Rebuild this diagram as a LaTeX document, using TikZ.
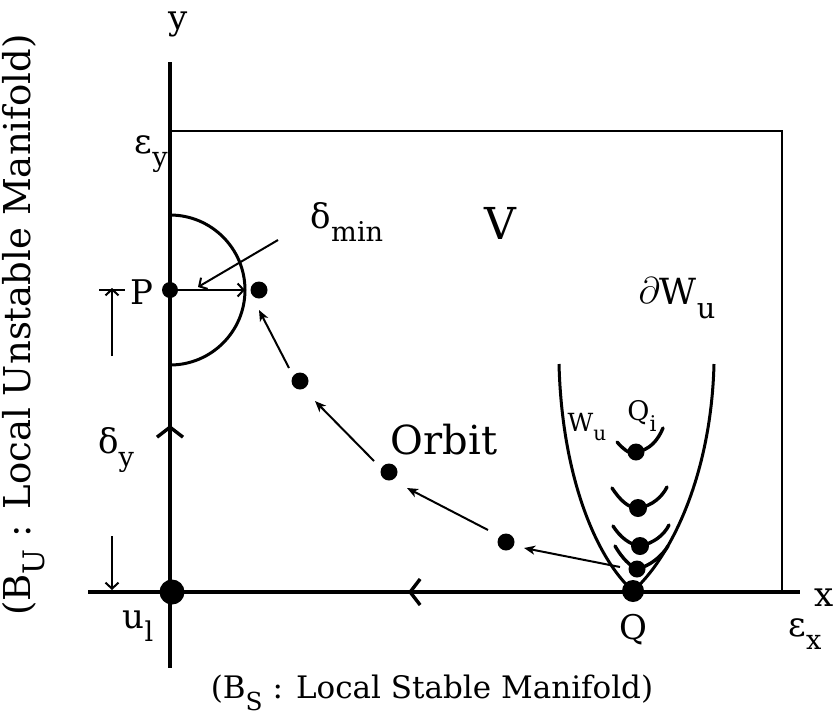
\documentclass[tikz,border=0pt]{standalone}
\usepackage{fontspec}
\setmainfont{DejaVu Serif}
\usetikzlibrary{arrows.meta}
\newcommand\sbs[1]{\raisebox{-0.38em}{\scalebox{0.8}{#1}}}
\begin{document}
\begin{tikzpicture}[x=1pt,y=-1pt,
  axisline/.style={line width=3.8pt},
  frameline/.style={line width=2pt},
  curveline/.style={line width=3pt},
  smile/.style={line width=3.4pt, line cap=round},
  dotnode/.style={circle,fill,inner sep=0pt,minimum size=17pt},
  lbl/.style={inner sep=0pt, font=\fontsize{34}{34}\selectfont},
  orb/.style={-{Stealth[length=11pt,width=9pt,inset=3pt]}, line width=2pt},
  barb/.style={-{Straight Barb[length=6pt,width=13pt,line width=2pt]}, line width=2pt},
  chevtip/.style={-{Straight Barb[length=10pt,width=26pt,line width=3.4pt]}, line width=3.8pt}
]
\useasboundingbox (0,0) rectangle (834,721);
% axes
\coordinate (yt) at (170,62);
\coordinate (yb) at (170,668);
\coordinate (xl) at (88,592);
\coordinate (xr) at (800,592);
\draw[axisline] (yt) -- (yb);
\draw[axisline] (xl) -- (xr);
% frame V
\coordinate (ftl) at (170,131);
\coordinate (fbr) at (782,592);
\draw[frameline] (ftl) -| (fbr);
% axis direction chevrons
\coordinate (ca1) at (170,455);
\coordinate (ca2) at (170,425);
\coordinate (cb1) at (440,592);
\coordinate (cb2) at (408,592);
\draw[chevtip] (ca1) -- (ca2);
\draw[chevtip] (cb1) -- (cb2);
% points
\node[dotnode, minimum size=25pt] (U1) at (172,592) {};
\node[dotnode, minimum size=16pt] (P) at (170,290) {};
\node[dotnode] (O1) at (259,290) {};
\node[dotnode] (O2) at (300,381) {};
\node[dotnode] (O3) at (389,472) {};
\node[dotnode] (O4) at (506,542) {};
\node[dotnode, minimum size=22pt] (Q) at (633,591) {};
% semicircle
\coordinate (ctop) at (170,215);
\draw[curveline] (ctop) arc[start angle=-90, end angle=90, radius=75];
\coordinate (cr) at (245,290);
\draw[barb] (P) -- (cr);
% delta_min leader
\coordinate (dm1) at (278,240);
\coordinate (dm2) at (198,287);
\draw[barb] (dm1) -- (dm2);
% orbit arrows
\coordinate (a1s) at (620,567); \coordinate (a1e) at (524,548);
\coordinate (a2s) at (488,530); \coordinate (a2e) at (407,488);
\coordinate (a3s) at (374,461); \coordinate (a3e) at (315,401);
\coordinate (a4s) at (289,368); \coordinate (a4e) at (259,310);
\draw[orb] (a1s) -- (a1e);
\draw[orb] (a2s) -- (a2e);
\draw[orb] (a3s) -- (a3e);
\draw[orb] (a4s) -- (a4e);
% delta_y dimension
\coordinate (dy1) at (112,290);
\coordinate (dy2) at (112,356);
\coordinate (dy3) at (112,536);
\coordinate (dy4) at (112,590);
\coordinate (dtl) at (99,290);
\coordinate (dtr) at (125,290);
\draw[line width=1.8pt] (dtl) -- (dtr);
\draw[barb] (dy2) -- ([yshift=2pt]dy1);
\draw[barb] (dy3) -- (dy4);
% W_u boundary
\coordinate (wl) at (559,364);
\coordinate (wr) at (714,364);
\draw[curveline] (wl) .. controls (562,480) and (598,560) .. (Q.center)
  .. controls (668,560) and (711,480) .. (wr);
% inner curves
\node[dotnode, minimum size=17pt] (Q1) at (636,452) {};
\node[dotnode, minimum size=18pt] (Q2) at (638,508) {};
\node[dotnode, minimum size=18pt] (Q3) at (640,546) {};
\node[dotnode, minimum size=17pt] (Q4) at (637,569) {};
\draw[smile] (617,442) .. controls (624,450) and (632,456) .. (Q1.center) .. controls (650,450) and (658,440) .. (663,428);
\draw[smile] (612,488) .. controls (620,500) and (628,508) .. (Q2.center) .. controls (652,506) and (662,497) .. (667,487);
\draw[smile] (613,526) .. controls (620,537) and (630,545) .. (Q3.center) .. controls (654,543) and (664,535) .. (669,525);
\draw[smile] (615,546) .. controls (622,558) and (630,566) .. (Q4.center) .. controls (650,566) and (662,556) .. (668,546);
% labels
\node[lbl] (ylab) at (178,24) {y};
\node[lbl, anchor=east] (xlab) at (834,598) {x};
\node[lbl, anchor=east] (eylab) at (168,154) {ε\sbs{y}};
\node[lbl] (exlab) at (805,634) {ε\sbs{x}};
\node[lbl] (Qlab) at (633,630) {Q};
\node[lbl] (u1lab) at (138,626) {u\sbs{l}};
\node[lbl, anchor=east] (Plab) at (154,292) {P};
\node[lbl] (dylab) at (116,450) {δ\sbs{y}};
\node[lbl] (dmlab) at (347,222) {δ\sbs{min}};
\node[lbl, font=\fontsize{44}{44}\selectfont] (Vlab) at (500,223) {V};
\node[lbl, font=\fontsize{40}{40}\selectfont] (orblab) at (444,440) {Orbit};
\node[lbl, font=\fontsize{36}{36}\selectfont] (dWlab) at (677,298) {\raisebox{0.05em}{\scalebox{1.5}{$\partial$}}W\sbs{u}};
\node[lbl, font=\fontsize{25}{25}\selectfont] (wulab) at (587,427) {W\sbs{u}};
\node[lbl, font=\fontsize{27}{27}\selectfont] (qilab) at (642,416) {Q\sbs{i}};
\node[lbl, font=\fontsize{31}{31}\selectfont] (bslab) at (432,693) {(B\sbs{S} : Local Stable Manifold)};
\node[lbl, font=\fontsize{37}{37}\selectfont, rotate=90] (bulab) at (24,325) {(B\sbs{U} : Local Unstable Manifold)};
\end{tikzpicture}
\end{document}
